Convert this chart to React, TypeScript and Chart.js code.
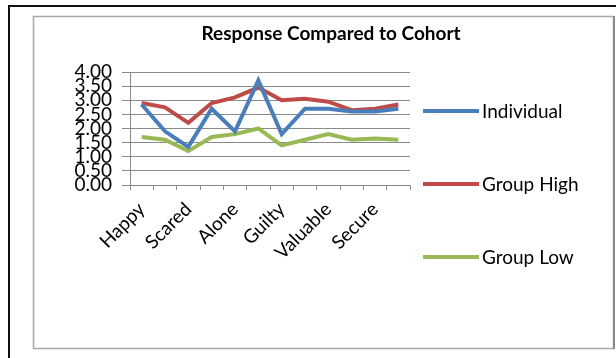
import React, { useEffect, useRef } from "react";
import { Chart, registerables } from "chart.js";

Chart.register(...registerables);

// Feeling categories (every other one is labelled on the axis)
const categories = [
  "Happy", "Sad", "Scared", "Angry", "Alone", "Loved",
  "Guilty", "Proud", "Valuable", "Safe", "Secure", "Hopeful",
];

const individual = [2.85, 1.9, 1.35, 2.7, 1.9, 3.7, 1.8, 2.7, 2.7, 2.6, 2.6, 2.7];
const groupHigh = [2.9, 2.75, 2.2, 2.9, 3.1, 3.45, 3.0, 3.05, 2.95, 2.65, 2.7, 2.85];
const groupLow = [1.7, 1.6, 1.2, 1.7, 1.8, 2.0, 1.4, 1.6, 1.8, 1.6, 1.65, 1.6];

const yTicks = [0, 0.5, 1, 1.5, 2, 2.5, 3, 3.5, 4];

const seriesNames = ["Individual", "Group High", "Group Low"];
const seriesColors = ["#4A7EBB", "#BE4B48", "#98B954"];

const chartTitle = "Response Compared to Cohort";
const FONT = "Lato, 'Open Sans', sans-serif";

// Page frame, title and the side legend
const decorPlugin = {
  id: "decor",
  beforeDraw(chart: any) {
    const ctx = chart.ctx;
    ctx.save();
    ctx.fillStyle = "#ffffff";
    ctx.fillRect(0, 0, chart.width, chart.height);
    // outer black frame (top and left)
    ctx.fillStyle = "#111111";
    ctx.fillRect(8, 5, chart.width - 8, 2);
    ctx.fillRect(8, 5, 2, chart.height - 5);
    // chart border
    ctx.strokeStyle = "#a8a8a8";
    ctx.lineWidth = 1.5;
    ctx.strokeRect(33.5, 16.5, 580, 332);
    ctx.strokeStyle = "#8a8a8a";
    ctx.lineWidth = 2;
    ctx.beginPath();
    ctx.moveTo(614, 16);
    ctx.lineTo(614, 349);
    ctx.stroke();
    ctx.restore();
  },
  afterDraw(chart: any) {
    const ctx = chart.ctx;
    ctx.save();
    ctx.fillStyle = "#000000";
    ctx.font = `bold 19px ${FONT}`;
    ctx.textAlign = "center";
    ctx.textBaseline = "middle";
    ctx.fillText(chartTitle, 331, 34);

    const legendY = [111, 184, 257];
    ctx.font = `19px ${FONT}`;
    ctx.textAlign = "left";
    seriesNames.forEach((name, i) => {
      ctx.strokeStyle = seriesColors[i];
      ctx.lineWidth = 4;
      ctx.beginPath();
      ctx.moveTo(423, legendY[i]);
      ctx.lineTo(479, legendY[i]);
      ctx.stroke();
      ctx.fillStyle = "#000000";
      ctx.fillText(name, 482, legendY[i] + 1);
    });
    ctx.restore();
  },
};

export default function App() {
  const canvasRef = useRef<HTMLCanvasElement | null>(null);

  useEffect(() => {
    if (!canvasRef.current) return;
    const seriesData = [individual, groupHigh, groupLow];
    const chart = new Chart(canvasRef.current, {
      type: "line",
      data: {
        labels: categories,
        datasets: seriesNames.map((name, i) => ({
          label: name,
          data: seriesData[i],
          borderColor: seriesColors[i],
          backgroundColor: seriesColors[i],
          borderWidth: 4,
          pointRadius: 0,
          tension: 0,
        })),
      },
      options: {
        responsive: false,
        animation: false,
        layout: { padding: { left: 0, right: 206, top: 72, bottom: 0 } },
        plugins: {
          legend: { display: false },
          title: { display: false },
          tooltip: { enabled: false },
        },
        scales: {
          x: {
            offset: true,
            grid: {
              offset: true,
              drawOnChartArea: false,
              color: "#8a8a8a",
              tickLength: 5,
            },
            border: { color: "#8a8a8a" },
            ticks: {
              autoSkip: false,
              minRotation: 45,
              maxRotation: 45,
              padding: 8,
              color: "#000000",
              font: { family: FONT, size: 19 },
              callback: (_v: any, i: number) => (i % 2 === 0 ? categories[i] : ""),
            },
            afterFit: (scale: any) => {
              scale.height = 173;
            },
          },
          y: {
            min: yTicks[0],
            max: yTicks[yTicks.length - 1],
            grid: { color: "#8a8a8a", tickLength: 8 },
            border: { color: "#8a8a8a" },
            afterBuildTicks: (scale: any) => {
              scale.ticks = yTicks.map((v) => ({ value: v }));
            },
            ticks: {
              autoSkip: false,
              padding: 10,
              color: "#000000",
              font: { family: FONT, size: 19 },
              callback: (v: any) => Number(v).toFixed(2),
            },
            afterFit: (scale: any) => {
              scale.width = 130;
            },
          },
        },
      },
      plugins: [decorPlugin],
    });
    return () => chart.destroy();
  }, []);

  return (
    <div style={{ position: "fixed", left: 0, top: 0, width: 616, height: 358, background: "#fff" }}>
      <canvas ref={canvasRef} width={616} height={358} />
    </div>
  );
}
